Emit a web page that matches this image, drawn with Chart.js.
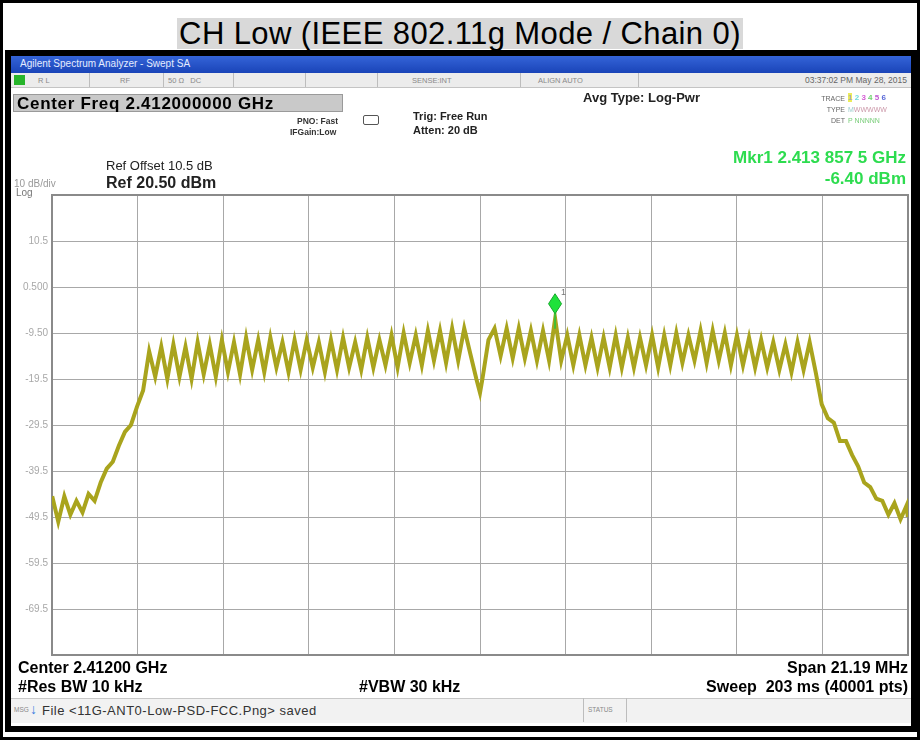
<!DOCTYPE html>
<html lang="en">
<head>
<meta charset="UTF-8">
<title>CH Low (IEEE 802.11g Mode / Chain 0)</title>
<script src="https://cdn.jsdelivr.net/npm/chart.js"></script>
<style>
  body { margin: 0; background: #fff; font-family: 'Liberation Sans', Arial, sans-serif; }
  #page { position: relative; width: 920px; height: 740px; overflow: hidden; background: #fff; }
  #frame { position: absolute; left: 0; top: 0; width: 920px; height: 740px; box-sizing: border-box; border: 3px solid #000; }
  #title { position: absolute; left: 0; top: 16px; width: 920px; text-align: center; font-size: 31px; letter-spacing: 0.4px; }
  #title span { display: inline-block; line-height: 31px; background: #d9d9d9; padding: 0 2px; }
  #shot { position: absolute; left: 5px; top: 50px; width: 912px; height: 682px; box-sizing: border-box; border: 6px solid #000; background: #fff; }
  #chart { position: absolute; left: 0; top: 0; z-index: 1; }
  .t { position: absolute; white-space: nowrap; line-height: 1; z-index: 2; }
  .b { font-weight: bold; }
  .r { text-align: right; }
  #bluebar { position: absolute; left: 11px; top: 56px; width: 900px; height: 17px; z-index: 2;
    background: linear-gradient(#3464d8, #1a44b8); }
  #statusrow { position: absolute; left: 11px; top: 73px; width: 900px; height: 14px; z-index: 2;
    background: #ececec; border-bottom: 1px solid #c4c4c4; }
  .sep { position: absolute; top: 73px; width: 1px; height: 14px; background: #bdbdbd; z-index: 3; }
  #cfbox { position: absolute; left: 13px; top: 94px; width: 330px; height: 18px; background: #c9c9c9;
    border: 1px solid #9a9a9a; box-sizing: border-box; z-index: 2; }
  #msgbar { position: absolute; left: 11px; top: 698px; width: 900px; height: 24px; background: #f2f2f2;
    border-top: 1px solid #c8c8c8; z-index: 2; }
  .st { font-size: 7.5px; color: #8a8a8a; }
  .mk { color: #2ddc4f; font-size: 17px; font-weight: bold; }
</style>
</head>
<body>
<div id="page">
  <div id="frame"></div>
  <div id="title"><span>CH Low (IEEE 802.11g Mode / Chain 0)</span></div>
  <div id="shot"></div>
  <canvas id="chart" width="920" height="740"></canvas>

  <div id="bluebar"></div>
  <div class="t" style="left:20px; top:59px; font-size:10px; color:#e4ecff;">Agilent Spectrum Analyzer - Swept SA</div>

  <div id="statusrow"></div>
  <div class="t" style="left:14px; top:75px; width:11px; height:10px; background:#27b52b; z-index:3;"></div>
  <div class="t st" style="left:38px; top:77px;">R L</div>
  <div class="t st" style="left:120px; top:77px;">RF</div>
  <div class="t st" style="left:168px; top:77px;">50 &Omega;&nbsp;&nbsp;&nbsp;DC</div>
  <div class="t st" style="left:412px; top:77px;">SENSE:INT</div>
  <div class="t st" style="left:538px; top:77px;">ALIGN AUTO</div>
  <div class="t st r" style="right:13px; top:76px; font-size:8.5px; color:#666;">03:37:02 PM May 28, 2015</div>
  <div class="sep" style="left:89px;"></div>
  <div class="sep" style="left:163px;"></div>
  <div class="sep" style="left:233px;"></div>
  <div class="sep" style="left:305px;"></div>
  <div class="sep" style="left:377px;"></div>
  <div class="sep" style="left:520px;"></div>
  <div class="sep" style="left:638px;"></div>

  <div id="cfbox"></div>
  <div class="t b" style="left:17px; top:95px; font-size:17px; letter-spacing:0.7px; z-index:3;">Center Freq 2.412000000 GHz</div>

  <div class="t b" style="left:297px; top:117px; font-size:8.5px; color:#333;">PNO: Fast</div>
  <div class="t b" style="left:290px; top:128px; font-size:8.5px; color:#333;">IFGain:Low</div>
  <div class="t" style="left:363px; top:115px; width:14px; height:8px; border:1px solid #555; border-radius:2px;"></div>
  <div class="t b" style="left:413px; top:111px; font-size:11px; color:#222;">Trig: Free Run</div>
  <div class="t b" style="left:413px; top:125px; font-size:11px; color:#222;">Atten: 20 dB</div>
  <div class="t b" style="left:583px; top:91px; font-size:13px; color:#222;">Avg Type: Log-Pwr</div>

  <div class="t r" style="right:75px; top:95px; font-size:7px; color:#666;">TRACE</div>
  <div class="t" style="left:848px; top:94px; font-size:8px; font-weight:bold;">
    <span style="background:#ecec5a; color:#aaa;">1</span>
    <span style="color:#6fdcdc;">2</span>
    <span style="color:#d45cd4;">3</span>
    <span style="color:#6fd26f;">4</span>
    <span style="color:#c05ad0;">5</span>
    <span style="color:#5a6ad8;">6</span>
  </div>
  <div class="t r" style="right:75px; top:106px; font-size:7px; color:#666;">TYPE</div>
  <div class="t" style="left:848px; top:106px; font-size:7px; color:#9cc;">M<span style="color:#c9a;">WWWWW</span></div>
  <div class="t r" style="right:75px; top:117px; font-size:7px; color:#666;">DET</div>
  <div class="t" style="left:848px; top:117px; font-size:7px; color:#7c7;">P&nbsp;NNNNN</div>

  <div class="t r mk" style="right:14px; top:149px;">Mkr1 2.413 857 5 GHz</div>
  <div class="t r mk" style="right:14px; top:170px;">-6.40 dBm</div>

  <div class="t" style="left:106px; top:159px; font-size:13px; color:#222;">Ref Offset 10.5 dB</div>
  <div class="t b" style="left:106px; top:175px; font-size:16px; color:#222;">Ref 20.50 dBm</div>
  <div class="t" style="left:14px; top:179px; font-size:10px; color:#999;">10 dB/div</div>
  <div class="t" style="left:16px; top:188px; font-size:10px; color:#777;">Log</div>

  <div class="t b" style="left:18px; top:660px; font-size:16px;">Center 2.41200 GHz</div>
  <div class="t b" style="left:18px; top:679px; font-size:16px;">#Res BW 10 kHz</div>
  <div class="t b" style="left:359px; top:679px; font-size:16px;">#VBW 30 kHz</div>
  <div class="t b r" style="right:12px; top:660px; font-size:16px;">Span 21.19 MHz</div>
  <div class="t b r" style="right:12px; top:679px; font-size:16px;">Sweep&nbsp;&nbsp;203 ms (40001 pts)</div>

  <div id="msgbar"></div>
  <div class="t" style="left:14px; top:707px; font-size:6.5px; color:#888;">MSG</div>
  <div class="t" style="left:30px; top:702px; font-size:14px; color:#3b7de0; z-index:3;">&#8595;</div>
  <div class="t" style="left:42px; top:704px; font-size:13px; color:#333; letter-spacing:0.5px;">File &lt;11G-ANT0-Low-PSD-FCC.Png&gt; saved</div>
  <div class="sep" style="left:583px; top:698px; height:24px;"></div>
  <div class="t" style="left:588px; top:707px; font-size:6.5px; color:#888;">STATUS</div>
  <div class="sep" style="left:626px; top:698px; height:24px;"></div>
</div>

<script>
// sweep points: offset from 2.412 GHz centre (MHz) and level (dBm)
const freqOffsetMHz = [
  -10.59, -10.44, -10.29, -10.14, -9.99, -9.84, -9.69, -9.54, -9.39, -9.24,
  -9.09, -8.94, -8.79, -8.64, -8.49, -8.34, -8.19, -8.04, -7.89, -7.74,
  -7.59, -7.44, -7.29, -7.14, -6.99, -6.84, -6.69, -6.54, -6.39, -6.24,
  -6.09, -5.94, -5.79, -5.64, -5.49, -5.34, -5.19, -5.04, -4.89, -4.74,
  -4.59, -4.44, -4.29, -4.14, -3.99, -3.84, -3.69, -3.54, -3.39, -3.24,
  -3.09, -2.94, -2.79, -2.64, -2.49, -2.34, -2.19, -2.04, -1.89, -1.74,
  -1.59, -1.44, -1.29, -1.14, -0.99, -0.84, -0.69, -0.54, -0.39, -0.24,
  -0.09, 0.00, 0.06, 0.21, 0.36, 0.51, 0.66, 0.81, 0.96, 1.11, 1.26,
  1.41, 1.56, 1.71, 1.86, 2.01, 2.16, 2.31, 2.46, 2.61, 2.76,
  2.91, 3.06, 3.21, 3.36, 3.51, 3.66, 3.81, 3.96, 4.11, 4.26,
  4.41, 4.56, 4.71, 4.86, 5.01, 5.16, 5.31, 5.46, 5.61, 5.76,
  5.91, 6.06, 6.21, 6.36, 6.51, 6.66, 6.81, 6.96, 7.11, 7.26,
  7.41, 7.56, 7.71, 7.86, 8.01, 8.16, 8.31, 8.46, 8.61, 8.76,
  8.91, 9.06, 9.21, 9.36, 9.51, 9.66, 9.81, 9.96, 10.11, 10.26,
  10.41, 10.56, 10.59
];
const levelDbm = [
  -45, -50.5, -45, -49, -46, -48.5, -44.5, -46, -42, -39,
  -37.5, -34, -31, -29.5, -25.5, -22, -13.5, -19, -12.5, -19.5,
  -12, -19, -12.5, -19.5, -11.5, -18.5, -12, -19, -11, -18,
  -11.5, -18.5, -10.5, -17.5, -11, -18, -10.5, -17, -11.5, -18,
  -11, -17.5, -11, -17, -11.5, -18, -11, -17.5, -10.5, -17,
  -11.5, -17.5, -10.5, -17, -11, -16.5, -10, -17, -9.5, -16,
  -10, -16.5, -9, -15.5, -9, -16, -8.5, -15.5, -8.5, -14,
  -19.5, -22.5, -19.5, -11, -8.5, -14.5, -8.5, -15, -8.5, -15, -9,
  -15.5, -9, -15.5, -6.4, -15.5, -10, -16.5, -10, -16.5, -10.5,
  -17, -10.5, -17, -10, -17, -10.5, -17, -10.5, -16.5, -10,
  -17, -10, -16.5, -9.5, -16, -10, -15.5, -9, -16, -9,
  -15.5, -9.5, -16.5, -10, -16.5, -10.5, -17, -11, -17, -11.5,
  -17.5, -12, -18, -11.5, -17.5, -11.5, -18, -25, -28, -29,
  -33, -33, -36, -38.5, -42, -43, -45.5, -46, -49, -46.5,
  -50, -47, -49.5
];

const yTickValues = [20.5, 10.5, 0.5, -9.5, -19.5, -29.5, -39.5, -49.5, -59.5, -69.5, -79.5];
const yTickLabels = ['', '10.5', '0.500', '-9.50', '-19.5', '-29.5', '-39.5', '-49.5', '-59.5', '-69.5', ''];
const xGridOffsets = [-10.595, -8.476, -6.357, -4.238, -2.119, 0, 2.119, 4.238, 6.357, 8.476, 10.595];

const markerFreq = [1.8575];
const markerLevel = [-6.40];

const gridColor = '#a8a8a8';

// plot frame + marker 1 diamond
const analyzerPlugin = {
  id: 'analyzer',
  beforeDatasetsDraw(chart) {
    const { ctx, chartArea: a } = chart;
    ctx.save();
    ctx.strokeStyle = '#8a8a8a';
    ctx.lineWidth = 2;
    ctx.strokeRect(a.left, a.top, a.right - a.left, a.bottom - a.top);
    ctx.restore();
  },
  afterDatasetsDraw(chart) {
    const { ctx, scales } = chart;
    const x = scales.x.getPixelForValue(markerFreq[0]);
    const y = scales.y.getPixelForValue(markerLevel[0]);
    ctx.save();
    ctx.strokeStyle = '#22c53a';
    ctx.lineWidth = 1.5;
    ctx.beginPath();
    ctx.moveTo(x, y - 6);
    ctx.lineTo(x, y + 10);
    ctx.stroke();
    const cy = y - 15;
    ctx.beginPath();
    ctx.moveTo(x, cy - 10);
    ctx.lineTo(x + 6.5, cy);
    ctx.lineTo(x, cy + 10);
    ctx.lineTo(x - 6.5, cy);
    ctx.closePath();
    ctx.fillStyle = '#1ee23a';
    ctx.fill();
    ctx.strokeStyle = '#17a82c';
    ctx.lineWidth = 1;
    ctx.stroke();
    ctx.fillStyle = '#777';
    ctx.font = '9px "Liberation Sans", Arial, sans-serif';
    ctx.fillText('1', x + 6, cy - 9);
    ctx.restore();
  }
};

const points = freqOffsetMHz.map((f, i) => ({ x: f, y: levelDbm[i] }));

new Chart(document.getElementById('chart'), {
  type: 'line',
  data: {
    datasets: [{
      data: points,
      borderColor: '#a9a41d',
      borderWidth: 4,
      pointRadius: 0,
      tension: 0
    }]
  },
  options: {
    responsive: false,
    animation: false,
    layout: { padding: { left: 10, top: 195, right: 12, bottom: 85 } },
    plugins: { legend: { display: false }, tooltip: { enabled: false } },
    scales: {
      x: {
        type: 'linear',
        min: -10.595,
        max: 10.595,
        afterBuildTicks: s => { s.ticks = xGridOffsets.map(v => ({ value: v })); },
        afterFit: s => { s.height = 0; },
        ticks: { display: false },
        grid: { color: gridColor, lineWidth: 1, drawTicks: false },
        border: { display: false }
      },
      y: {
        min: -79.5,
        max: 20.5,
        afterBuildTicks: s => { s.ticks = yTickValues.map(v => ({ value: v })); },
        afterFit: s => { s.width = 42; },
        ticks: {
          callback: v => yTickLabels[yTickValues.indexOf(v)],
          color: '#a8a8a8',
          font: { size: 10, family: "'Liberation Sans', Arial, sans-serif" },
          padding: 4
        },
        grid: { color: gridColor, lineWidth: 1, drawTicks: false },
        border: { display: false }
      }
    }
  },
  plugins: [analyzerPlugin]
});
</script>
</body>
</html>
